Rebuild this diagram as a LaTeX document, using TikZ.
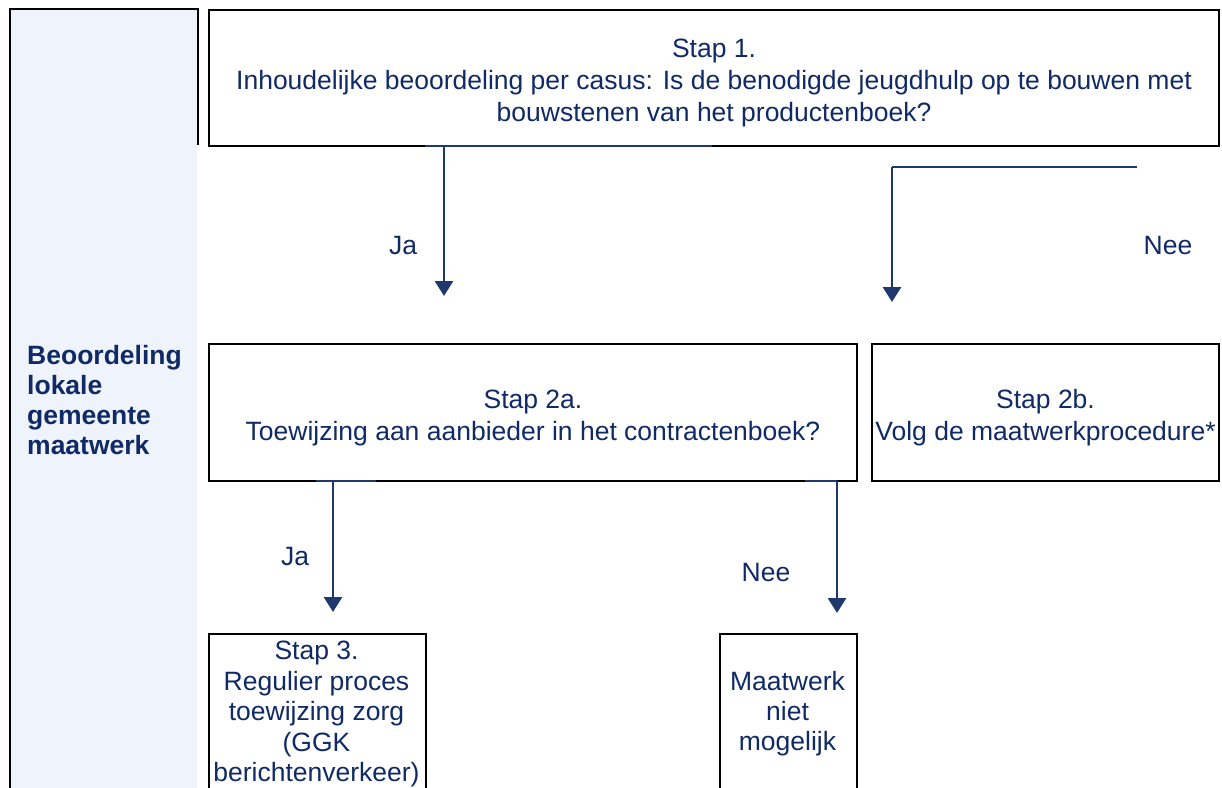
\documentclass[tikz,border=0pt]{standalone}
\usepackage{fontspec}
\setmainfont{Liberation Sans}
\usetikzlibrary{arrows.meta}
\definecolor{navy}{RGB}{16,42,102}
\definecolor{arrowblue}{RGB}{31,56,110}
\definecolor{panel}{RGB}{239,243,251}
\begin{document}
\begin{tikzpicture}[x=1pt,y=-1pt,
  txt/.style={text=navy,font=\fontsize{26.5}{31}\selectfont,inner sep=0pt,align=center},
  box/.style={draw=black,line width=2pt,fill=white,inner sep=0pt,anchor=north west},
  conn/.style={draw=arrowblue,line width=2.8pt},
  arr/.style={conn,-{Triangle[width=18pt,length=15pt]}},
  lbl/.style={text=navy,font=\fontsize{26.5}{31}\selectfont,inner sep=0pt}]
\useasboundingbox (0,0) rectangle (1222,787);
\begin{scope}
\clip (0,0) rectangle (1222,787);
% left panel
\fill[panel] (10,9) rectangle (197,800);
\draw[line width=2pt] (10,800) -- (10,9) -- (198,9) -- (198,145);
\node[lbl,font=\fontsize{26.5}{30}\selectfont\bfseries,align=left,anchor=west] (side) at (27,400)
  {Beoordeling\\lokale\\gemeente\\maatwerk};
% boxes
\node[box,minimum width=1010pt,minimum height=136pt] (s1) at (208,9) {};
\node[txt,font=\fontsize{26.5}{32}\selectfont] (s1t) at ([yshift=-5pt]s1.center)
  {Stap 1.\\Inhoudelijke beoordeling per casus: Is de benodigde jeugdhulp op te bouwen met\\bouwstenen van het productenboek?};
\node[box,minimum width=648pt,minimum height=137pt] (s2a) at (208,343) {};
\node[txt,font=\fontsize{26.5}{32}\selectfont] (s2at) at ([yshift=-5pt]s2a.center)
  {Stap 2a.\\Toewijzing aan aanbieder in het contractenboek?};
\node[box,minimum width=347pt,minimum height=137pt] (s2b) at (871,343) {};
\node[txt,font=\fontsize{26.5}{32}\selectfont] (s2bt) at ([yshift=-5pt]s2b.center)
  {Stap 2b.\\Volg de maatwerkprocedure*};
\node[box,minimum width=217pt,minimum height=200pt] (s3box) at (208,633) {};
\node[txt,font=\fontsize{26.5}{30.5}\selectfont] (s3) at (316.5,714)
  {Stap 3.\\Regulier proces\\toewijzing zorg\\(GGK\\berichtenverkeer)};
\node[box,minimum width=137pt,minimum height=200pt] (mwbox) at (719,633) {};
\node[txt,font=\fontsize{26.5}{30}\selectfont] (mw) at (787.5,714)
  {Maatwerk\\niet\\mogelijk};
% connectors
\coordinate (h1a) at (425,146); \coordinate (h1b) at (712,146);
\coordinate (v1a) at (444,146); \coordinate (v1b) at (444,296);
\draw[conn] (h1a) -- (h1b);
\draw[arr] (v1a) -- (v1b);
\coordinate (h2a) at (892,167); \coordinate (h2b) at (1137,167);
\coordinate (v2b) at (892,302);
\draw[conn] (h2b) -- (h2a);
\draw[arr] (h2a) -- (v2b);
\coordinate (h3a) at (316,481); \coordinate (h3b) at (376,481);
\coordinate (v3a) at (333,481); \coordinate (v3b) at (333,612);
\draw[conn] (h3a) -- (h3b);
\draw[arr] (v3a) -- (v3b);
\coordinate (h4a) at (805,481); \coordinate (h4b) at (837,481);
\coordinate (v4b) at (837,613);
\draw[conn] (h4a) -- (h4b);
\draw[arr] (h4b) -- (v4b);
% labels
\node[lbl] (ja1) at (403,246) {Ja};
\node[lbl] (nee1) at (1168,246) {Nee};
\node[lbl] (ja2) at (295,557) {Ja};
\node[lbl] (nee2) at (766,573) {Nee};
\end{scope}
\end{tikzpicture}
\end{document}
